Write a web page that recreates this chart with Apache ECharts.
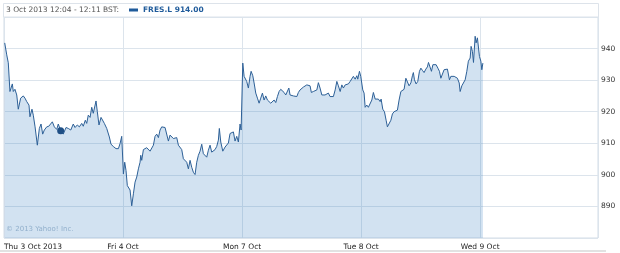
<!DOCTYPE html>
<html><head><meta charset="utf-8">
<script src="https://cdn.jsdelivr.net/npm/echarts@6/dist/echarts.min.js"></script>
<style>html,body{margin:0;padding:0;background:#fff}#c{width:620px;height:253px}</style>
</head><body><div id="c"></div>
<script>
// x = trading-day index (0 = Thu 3 Oct open, 1 = Fri 4 Oct open, ...)
const dayLabels = ['Thu 3 Oct 2013', 'Fri 4 Oct', 'Mon 7 Oct', 'Tue 8 Oct', 'Wed 9 Oct'];
const headerRange = '3 Oct 2013 12:04 - 12:11 BST:';
const headerQuote = 'FRES.L 914.00';
const copyright = '\u00a9 2013 Yahoo! Inc.';

const thu = [[0.006,941.8],[0.014,942.3],[0.023,938.0],[0.036,935.5],[0.050,926.4],[0.070,928.8],[0.078,926.4],[0.092,927.1],[0.107,925.3],[0.120,920.8],[0.140,924.3],[0.162,925.0],[0.176,924.3],[0.191,923.2],[0.210,922.1],[0.218,918.4],[0.235,920.8],[0.246,918.9],[0.261,915.2],[0.280,909.4],[0.297,914.7],[0.311,916.1],[0.325,912.9],[0.339,914.2],[0.359,915.2],[0.376,915.4],[0.387,915.0],[0.406,916.8],[0.423,915.2],[0.443,914.4],[0.456,916.1],[0.476,914.0],[0.498,912.9],[0.521,915.0],[0.540,914.7],[0.561,914.2],[0.582,916.1],[0.597,915.0],[0.616,915.8],[0.633,915.2],[0.653,916.3],[0.666,915.4],[0.683,917.3],[0.695,916.3],[0.708,918.9],[0.723,918.2],[0.737,921.4],[0.750,919.5],[0.773,923.4],[0.784,920.0],[0.798,915.8],[0.815,918.2],[0.829,918.6],[0.843,916.3],[0.863,914.7],[0.885,912.0],[0.899,909.7],[0.918,909.0],[0.941,908.3],[0.961,908.3],[0.975,909.9],[0.989,912.2],[0.997,911.8]];
const fri = [[1.003,900.3],[1.014,904.0],[1.025,901.4],[1.036,896.6],[1.050,897.1],[1.059,895.2],[1.073,890.2],[1.087,894.0],[1.101,897.7],[1.115,899.3],[1.129,901.9],[1.143,904.0],[1.149,906.2],[1.157,904.6],[1.171,908.0],[1.185,907.5],[1.199,908.6],[1.213,908.3],[1.227,907.5],[1.241,907.8],[1.255,909.4],[1.269,912.2],[1.283,912.9],[1.297,911.8],[1.311,914.2],[1.325,915.2],[1.339,915.5],[1.353,915.0],[1.367,914.4],[1.381,910.7],[1.395,912.6],[1.409,912.0],[1.423,911.5],[1.437,911.0],[1.451,911.8],[1.465,909.4],[1.479,909.9],[1.493,908.0],[1.507,905.1],[1.521,905.6],[1.535,904.0],[1.549,901.9],[1.563,904.6],[1.577,902.4],[1.591,900.8],[1.605,900.1],[1.619,904.0],[1.633,906.2],[1.647,907.5],[1.661,909.7],[1.675,906.7],[1.689,907.2],[1.703,905.6],[1.717,907.8],[1.731,909.4],[1.745,907.2],[1.759,907.5],[1.773,908.0],[1.787,909.0],[1.801,911.0],[1.809,914.7],[1.821,910.4],[1.838,907.5],[1.857,908.8],[1.871,909.4],[1.885,910.1],[1.899,913.1],[1.913,912.9],[1.927,913.6],[1.941,910.7],[1.955,912.2],[1.969,910.4],[1.983,916.1],[1.992,914.2]];
const mon = [[2.006,935.4],[2.017,931.2],[2.025,931.7],[2.039,929.6],[2.053,927.5],[2.067,931.2],[2.076,932.8],[2.090,931.4],[2.101,929.1],[2.115,925.9],[2.129,924.3],[2.143,922.7],[2.157,924.3],[2.171,925.9],[2.185,923.7],[2.199,925.0],[2.213,923.7],[2.227,924.3],[2.241,922.7],[2.255,923.2],[2.269,923.7],[2.283,922.9],[2.297,924.8],[2.311,926.4],[2.325,927.1],[2.339,927.5],[2.353,926.1],[2.367,925.3],[2.381,925.6],[2.393,927.5],[2.403,925.3],[2.418,925.3],[2.431,925.0],[2.445,924.8],[2.460,924.8],[2.473,926.1],[2.487,926.9],[2.502,927.5],[2.515,927.8],[2.529,928.2],[2.544,928.5],[2.557,928.8],[2.571,928.2],[2.582,926.1],[2.599,926.4],[2.613,926.4],[2.628,926.9],[2.641,929.2],[2.655,927.5],[2.670,925.3],[2.683,924.8],[2.697,925.3],[2.712,925.9],[2.725,925.9],[2.739,924.8],[2.754,924.3],[2.767,924.8],[2.782,926.9],[2.796,929.6],[2.809,928.2],[2.824,926.4],[2.838,928.5],[2.851,927.5],[2.866,928.5],[2.880,928.0],[2.893,928.8],[2.908,929.6],[2.922,930.1],[2.935,931.2],[2.950,930.3],[2.964,931.4],[2.972,930.3],[2.986,932.8],[2.997,931.2]];
const tue = [[3.014,926.9],[3.025,925.9],[3.034,921.4],[3.048,922.1],[3.061,921.4],[3.076,921.6],[3.090,923.7],[3.103,926.1],[3.118,924.0],[3.132,923.5],[3.145,924.0],[3.160,923.2],[3.168,924.0],[3.182,920.8],[3.196,920.0],[3.210,917.3],[3.221,915.2],[3.235,915.7],[3.250,917.3],[3.263,919.3],[3.277,920.0],[3.292,920.5],[3.305,920.5],[3.319,923.7],[3.334,926.4],[3.347,926.9],[3.361,927.1],[3.376,930.6],[3.389,930.1],[3.403,928.2],[3.418,929.1],[3.431,931.4],[3.439,932.4],[3.448,930.1],[3.462,928.8],[3.476,929.6],[3.490,932.8],[3.502,933.8],[3.515,933.1],[3.529,932.4],[3.544,933.5],[3.557,934.2],[3.566,935.6],[3.580,936.0],[3.591,932.8],[3.603,934.9],[3.616,935.2],[3.630,934.9],[3.645,933.8],[3.658,932.8],[3.670,930.6],[3.683,930.6],[3.697,933.3],[3.712,933.3],[3.725,933.5],[3.734,933.8],[3.742,930.1],[3.754,931.2],[3.767,931.4],[3.782,931.2],[3.796,931.4],[3.809,930.6],[3.824,929.1],[3.832,926.4],[3.846,928.2],[3.859,928.8],[3.874,930.1],[3.888,932.8],[3.901,936.0],[3.916,937.0],[3.924,940.7],[3.935,939.1],[3.944,935.6],[3.958,943.9],[3.966,941.8],[3.977,943.4],[3.986,943.9],[3.994,937.5]];
const wed = [[4.006,936.0],[4.014,933.3],[4.023,935.4]];
const hoverPoint = [[0.476, 914.0]];

const FONT = 'DejaVu Sans';
const chart = echarts.init(document.getElementById('c'), null, {renderer: 'canvas'});
chart.setOption({
  animation: false,
  backgroundColor: '#fff',
  grid: {left: 4, top: 17, width: 594, height: 221, show: true, borderColor: '#d3dce6', borderWidth: 1},
  xAxis: {
    type: 'value', min: 0, max: 4.99, interval: 1,
    axisLine: {show: false}, axisTick: {show: false},
    splitLine: {show: true, lineStyle: {color: '#dce4ec', width: 1}},
    axisLabel: {
      fontFamily: FONT, fontSize: 7.5, color: '#222', margin: 5,
      showMaxLabel: false, alignMinLabel: 'left',
      formatter: v => (Number.isInteger(v) && dayLabels[v]) ? dayLabels[v] : ''
    }
  },
  yAxis: {
    type: 'value', position: 'right', min: 880, max: 950, interval: 10,
    axisLine: {show: false}, axisTick: {show: false},
    splitLine: {show: true, lineStyle: {color: '#dce4ec', width: 1}},
    axisLabel: {fontFamily: FONT, fontSize: 7.5, color: '#333', margin: 3, showMinLabel: false, showMaxLabel: false}
  },
  series: [
    {
      type: 'line', data: thu.concat(fri, mon, tue, wed), showSymbol: false, symbol: 'none',
      lineStyle: {color: '#2d6097', width: 1},
      areaStyle: {color: 'rgba(52,124,190,0.22)', opacity: 1, origin: 'start'},
      z: 2
    },
    {
      type: 'scatter', data: hoverPoint, symbolSize: 7,
      itemStyle: {color: '#1f4f85', opacity: 1}, z: 5
    }
  ],
  graphic: [
    {type: 'rect', shape: {x: 3.5, y: 3.5, width: 595, height: 13.5}, style: {fill: '#fff', stroke: '#dde3ea', lineWidth: 1}},
    {type: 'text', x: 6, y: 10.5, style: {text: headerRange, font: '7.5px "DejaVu Sans"', fill: '#555', textVerticalAlign: 'middle'}},
    {type: 'rect', shape: {x: 129, y: 8.5, width: 9, height: 3}, style: {fill: '#1f5b9b'}},
    {type: 'text', x: 143, y: 10.5, style: {text: headerQuote, font: 'bold 7.5px "DejaVu Sans"', fill: '#1f5b9b', textVerticalAlign: 'middle'}},
    {type: 'text', x: 6, y: 229, style: {text: copyright, font: '7px "DejaVu Sans"', fill: '#adbfd0', textVerticalAlign: 'middle'}},
    {type: 'rect', shape: {x: 0, y: 250, width: 606, height: 2}, style: {fill: '#e2e2e2'}}
  ]
});
</script>
</body></html>
